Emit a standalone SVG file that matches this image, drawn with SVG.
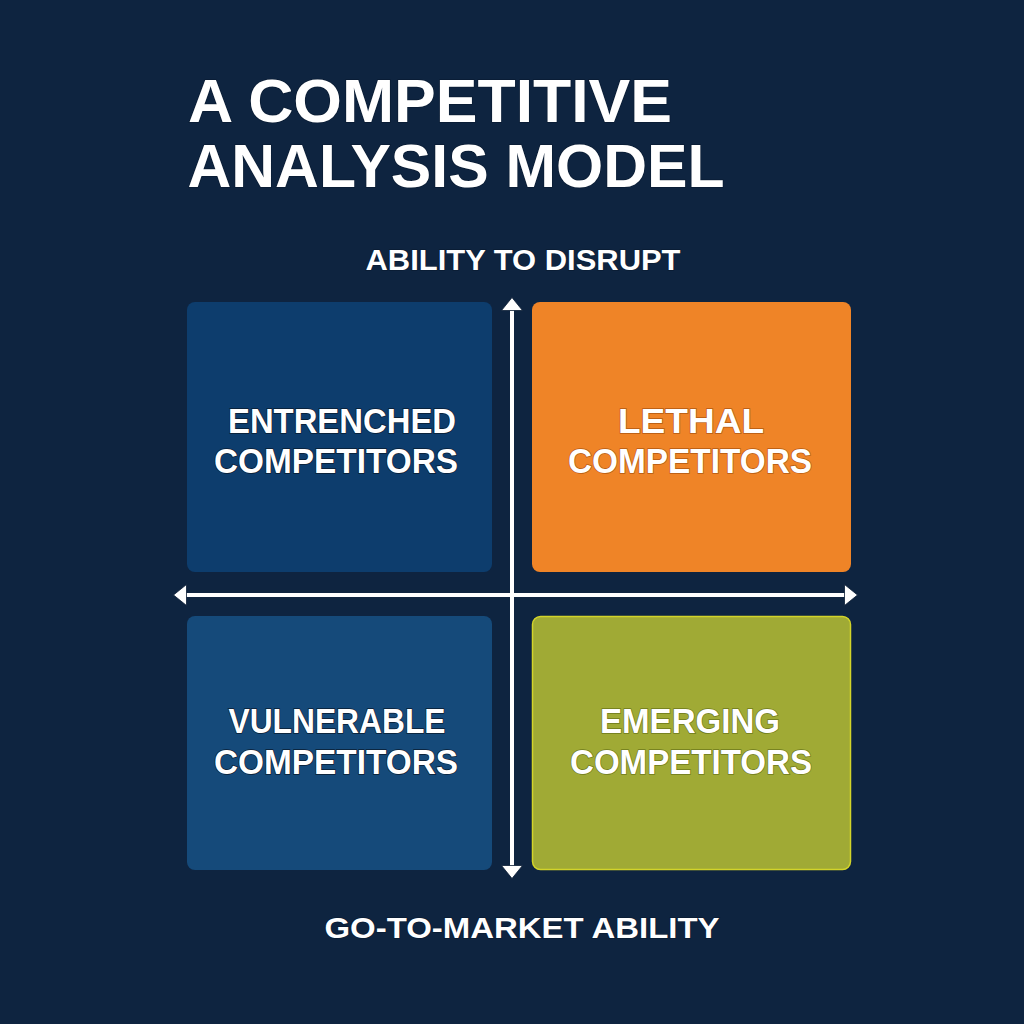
<svg xmlns="http://www.w3.org/2000/svg" width="1024" height="1024" viewBox="0 0 1024 1024">
<defs>
<style>
.t{font-family:"Liberation Sans",Arial,sans-serif;font-weight:bold;fill:#ffffff;stroke:#0a1c33;stroke-width:1.5;paint-order:stroke;text-anchor:middle}
.q{font-size:35px}
.ax{stroke:#ffffff;stroke-width:4;fill:none}
</style>
<marker id="ah" viewBox="0 0 14 22" refX="2" refY="11" markerWidth="14" markerHeight="22" markerUnits="userSpaceOnUse" orient="auto-start-reverse">
<path d="M0.5,0.5 L13.5,11 L0.5,21.5 Z" fill="#ffffff" stroke="#0a1c33" stroke-width="0.8" stroke-linejoin="round"/>
</marker>
</defs>
<rect width="1024" height="1024" fill="#0e2440"/>
<g id="title">
<text class="t" x="430" y="122" font-size="62" textLength="484" lengthAdjust="spacingAndGlyphs">A COMPETITIVE</text>
<text class="t" x="456" y="187" font-size="62" textLength="537" lengthAdjust="spacingAndGlyphs">ANALYSIS MODEL</text>
</g>
<g id="label-top"><text class="t" x="523" y="270" font-size="29" textLength="315" lengthAdjust="spacingAndGlyphs">ABILITY TO DISRUPT</text></g>
<g id="q-entrenched">
<rect x="187" y="302" width="305" height="270" rx="8" fill="#0d3d6d"/>
<text class="t q" x="342" y="433" textLength="228" lengthAdjust="spacingAndGlyphs">ENTRENCHED</text>
<text class="t q" x="336" y="473" textLength="244" lengthAdjust="spacingAndGlyphs">COMPETITORS</text>
</g>
<g id="q-lethal">
<rect x="532" y="302" width="319" height="270" rx="8" fill="#ef8427"/>
<text class="t q" x="691" y="433" textLength="146" lengthAdjust="spacingAndGlyphs" style="stroke:#b65a12">LETHAL</text>
<text class="t q" x="690" y="473" textLength="244" lengthAdjust="spacingAndGlyphs" style="stroke:#b65a12">COMPETITORS</text>
</g>
<g id="q-vulnerable">
<rect x="187" y="616" width="305" height="254" rx="8" fill="#154a7a"/>
<text class="t q" x="337" y="733" textLength="217" lengthAdjust="spacingAndGlyphs">VULNERABLE</text>
<text class="t q" x="336" y="774" textLength="244" lengthAdjust="spacingAndGlyphs">COMPETITORS</text>
</g>
<g id="q-emerging">
<rect x="532.5" y="616.5" width="318" height="253" rx="8" fill="#a0aa35" stroke="#d2d42a" stroke-width="1.5"/>
<text class="t q" x="690" y="733" textLength="180" lengthAdjust="spacingAndGlyphs" style="stroke:#6f7a1c">EMERGING</text>
<text class="t q" x="691" y="774" textLength="242" lengthAdjust="spacingAndGlyphs" style="stroke:#6f7a1c">COMPETITORS</text>
</g>
<g id="connectors">
<line class="ax" x1="512" y1="867" x2="512" y2="309" marker-start="url(#ah)" marker-end="url(#ah)"/>
<line class="ax" x1="185" y1="595" x2="846" y2="595" marker-start="url(#ah)" marker-end="url(#ah)"/>
</g>
<g id="label-bottom"><text class="t" x="522" y="938" font-size="30" textLength="395" lengthAdjust="spacingAndGlyphs">GO-TO-MARKET ABILITY</text></g>
</svg>
